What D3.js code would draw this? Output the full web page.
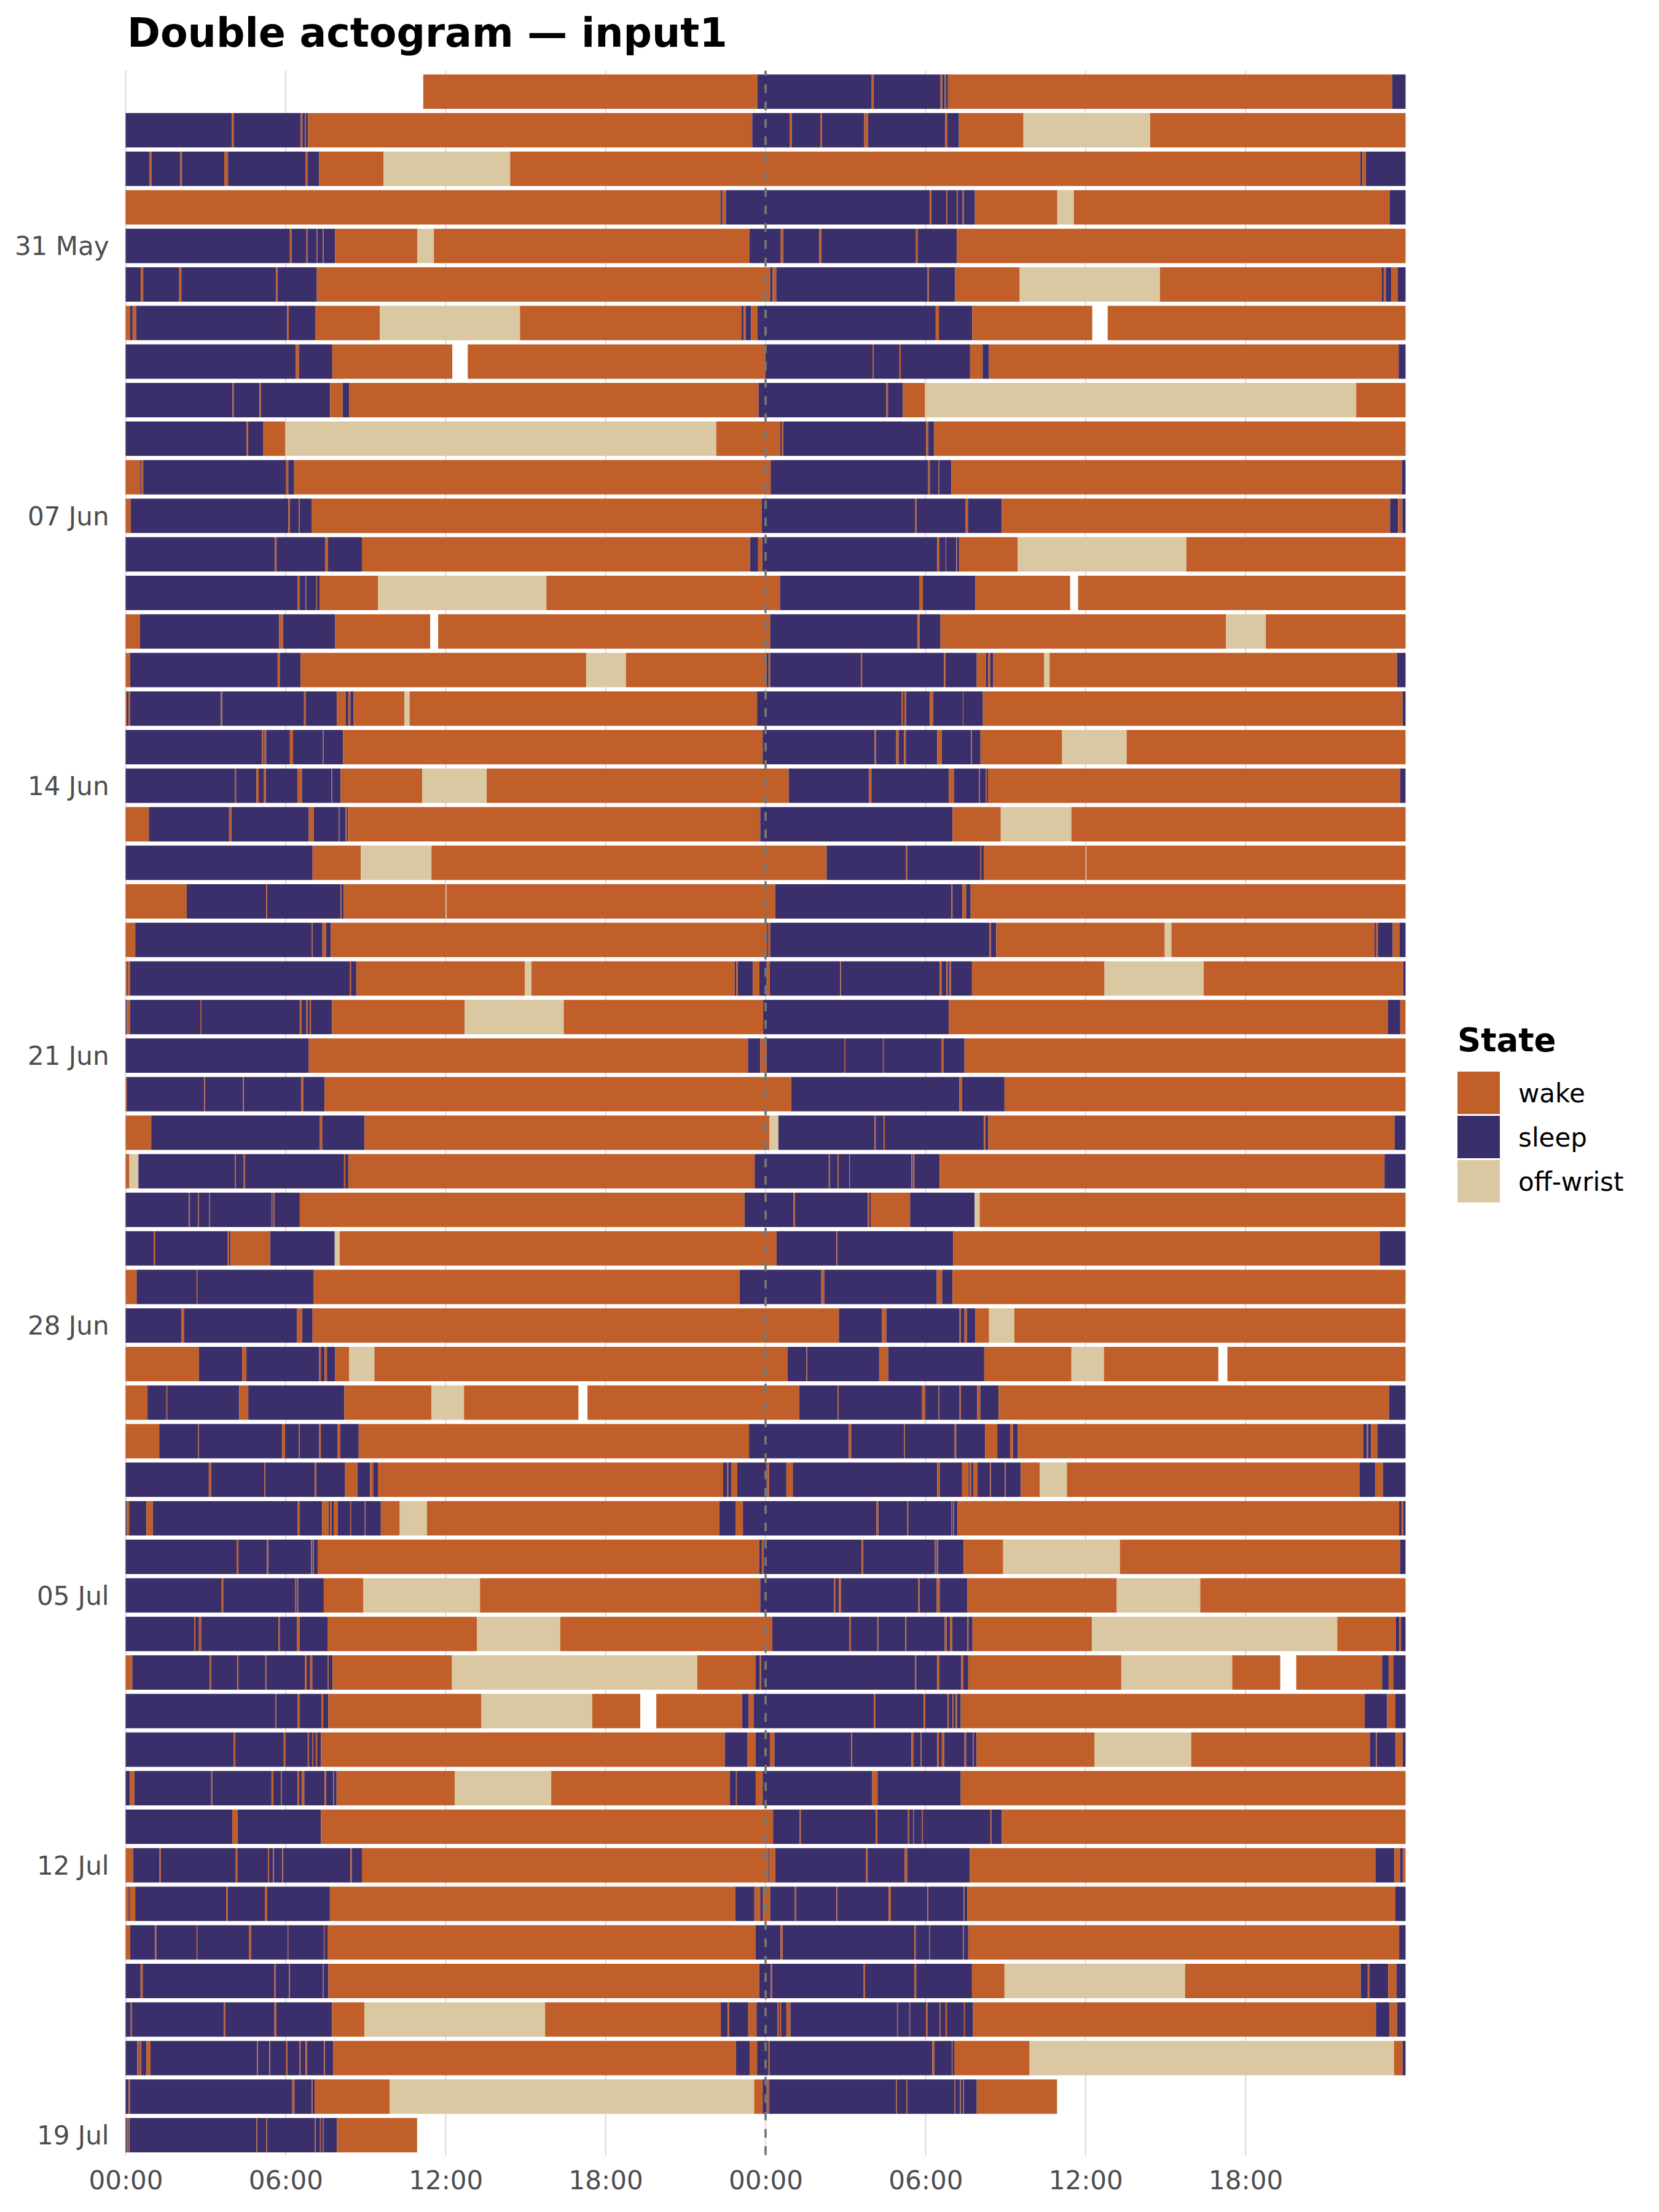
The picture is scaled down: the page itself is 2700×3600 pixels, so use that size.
<!DOCTYPE html>
<html><head><meta charset="utf-8">
<script src="https://cdn.jsdelivr.net/npm/d3@7"></script>
<style>body{margin:0;background:#fff;} svg{display:block;font-family:"DejaVu Sans",sans-serif;}</style>
</head><body>
<svg id="chart" width="2700" height="3600"></svg>
<script>
const chartTitle = "Double actogram — input1";
const legendTitle = "State";
const stateKeys = ["W", "S", "O"];
const stateNames = ["wake", "sleep", "off-wrist"];
const stateColors = ["#c15f2a", "#3b2f6b", "#d9c8a1"];
const xTickHours = [0, 6, 12, 18, 24, 30, 36, 42];
const xTickLabels = ["00:00", "06:00", "12:00", "18:00", "00:00", "06:00", "12:00", "18:00"];
const yTickRows = [4, 11, 18, 25, 32, 39, 46, 53];
const yTickLabels = ["31 May", "07 Jun", "14 Jun", "21 Jun", "28 Jun", "05 Jul", "12 Jul", "19 Jul"];
// one string per day (27 May .. 19 Jul): state letter + clock hour where that state begins
// W = wake, S = sleep, O = off-wrist, N = no data
const dayEvents = [
  "N0 W11.16 S23.70",
  "S0 W3.98 S4.05 W6.56 S6.63 W6.72 S6.76 W6.84 S23.50",
  "S0 W0.90 S0.98 W2.05 S2.11 W3.70 S3.84 W6.74 S6.82 W7.25 O9.67 W14.42",
  "W0 S22.31 W22.38 S22.51",
  "S0 W6.16 S6.22 W6.78 S6.82 W7.17 S7.20 W7.39 S7.43 W7.85 O10.94 W11.56 S23.40",
  "S0 W0.57 S0.66 W2.01 S2.09 W5.64 S5.70 W7.17",
  "W0 S0.17 W0.26 S0.40 W6.06 S6.12 W7.11 O9.53 W14.79 S23.10 W23.18 S23.26 W23.46 S23.70",
  "S0 W6.38 S6.50 W7.75 N12.25 W12.83",
  "S0 W4.01 S4.05 W5.02 S5.07 W7.67 S8.14 W8.38 S23.74",
  "S0 W4.53 S4.59 W5.15 O5.98 W22.15",
  "W0 S0.55 W0.60 S0.66 W6.02 S6.10 W6.32",
  "W0 S0.19 W6.10 S6.16 W6.49 S6.52 W6.97 S23.86",
  "S0 W5.60 S5.66 W7.49 S7.59 W8.86 S23.42 W23.72 S23.88",
  "S0 W6.44 S6.52 W6.75 S6.77 W7.15 S7.18 W7.27 O9.46 W15.78",
  "W0 S0.54 W5.76 S5.90 W7.86 N11.42 W11.72",
  "W0 S0.17 W5.70 S5.78 W6.56 O17.27 W18.76",
  "W0 S0.04 W0.11 S0.17 W3.57 S3.62 W6.69 S6.75 W7.92 S8.26 W8.35 S8.43 W8.54 O10.45 W10.65 S23.68",
  "S0 W5.11 S5.16 W5.21 S5.27 W6.16 S6.28 W7.40 S7.42 W8.15 S23.89",
  "S0 W4.09 S4.14 W4.90 S4.99 W5.19 S5.26 W6.44 S6.61 W7.71 S7.74 W8.06 O11.12 W13.54",
  "W0 S0.87 W3.88 S3.97 W6.87 S7.06 W8.00 S8.03 W8.25 S8.29 W8.34 S23.80",
  "S0 W7.01 O8.82 W11.47",
  "W0 S2.29 W5.27 S5.31 W8.06 S8.09 W8.18 N12.00 W12.03",
  "W0 S0.36 W6.97 S7.01 W7.38 S7.52 W7.69",
  "W0 S0.05 W0.09 S0.17 W8.40 S8.45 W8.65 O14.97 W15.22 S22.84 W22.90 S22.96 W23.52 S23.77",
  "S0 W0.04 S0.16 W2.80 S2.83 W6.53 S6.60 W6.78 S6.83 W6.90 S6.95 W7.74 O12.71 W16.43 S23.91",
  "S0 W6.87 S23.34 W23.80",
  "W0 S0.04 W2.95 S2.98 W4.40 S4.43 W6.59 S6.67 W7.46",
  "W0 S0.96 W7.27 S7.37 W8.96",
  "W0 O0.14 S0.48 W4.09 S4.13 W4.43 S4.47 W8.19 S8.24 W8.35 S23.59",
  "S0 W2.37 S2.41 W2.71 S2.74 W3.14 S3.16 W5.47 S5.50 W5.54 S5.58 W6.53 S23.21",
  "S0 W1.05 S1.10 W3.83 S3.88 W3.94 S5.42 O7.84 W8.03",
  "W0 S0.41 W2.66 S2.69 W7.04 S23.03",
  "S0 W2.09 S2.20 W6.42 S6.62 W7.01",
  "W0 S2.75 W4.37 S4.53 W7.26 S7.32 W7.46 S7.55 W7.86 O8.38 W9.33",
  "W0 S0.82 W1.53 S1.56 W4.26 S4.60 W8.20 O11.47 W12.69 N16.98 W17.32",
  "W0 S1.26 W2.71 S2.74 W5.87 S5.98 W6.49 S6.52 W7.26 S7.32 W7.94 S8.05 W8.74 S23.38",
  "S0 W3.12 S3.21 W5.20 S5.23 W7.09 S7.15 W8.23 S8.69 W9.17 S9.28 W9.46 S22.41 W22.55 S22.60 W22.71 S22.94",
  "S0 W0.04 S0.13 W0.78 S1.02 W6.44 S6.53 W7.37 S7.61 W7.66 S7.72 W7.80 S7.95 W8.42 S8.45 W8.97 S9.00 W9.57 O10.28 W11.30 S22.27 W22.87 S23.15",
  "S0 W4.16 S4.23 W5.30 S5.35 W6.96 S6.99 W7.03 S7.06 W7.20 S23.76 W23.86 S23.92",
  "S0 W3.60 S3.66 W6.35 S6.38 W6.42 S6.47 W7.43 O8.91 W13.29 S23.80",
  "S0 W2.57 S2.61 W2.75 S2.83 W5.73 S5.78 W6.42 S6.53 W7.57 O13.17 W16.30",
  "W0 S0.25 W3.15 S3.20 W4.19 S4.23 W5.24 S5.28 W6.72 S6.79 W6.92 S7.00 W7.57 S7.61 W7.76 O12.24 W21.44 S23.63 W23.77 S23.83",
  "S0 W5.61 S5.65 W6.44 S6.52 W7.34 S7.41 W7.60 O13.34 W17.50 N19.30 W19.90 S23.12 W23.37 S23.55",
  "S0 W4.06 S4.11 W5.93 S5.99 W6.83 S6.87 W7.01 S7.04 W7.13 S7.18 W7.32 S22.47 W23.31 S23.62",
  "S0 W0.16 S0.33 W3.21 S3.25 W5.47 S5.54 W5.82 S5.85 W6.44 S6.50 W6.61 S6.70 W7.46 S7.52 W7.78 S7.81 W7.91 O12.34 W15.96 S22.66 W22.89 S22.92 W23.63 S23.89",
  "S0 W4.00 S4.20 W7.32",
  "W0 S0.28 W1.27 S1.32 W4.13 S4.19 W5.34 S5.38 W5.53 S5.56 W5.87 S5.90 W8.43 S8.48 W8.86",
  "W0 S0.11 W0.15 S0.36 W3.77 S3.83 W5.22 S5.31 W7.66 S22.87 W23.58 S23.80 W23.90",
  "W0 S0.17 W1.10 S1.15 W2.66 S2.69 W4.62 S4.70 W6.07 S6.10 W7.43 S7.46 W7.57 S23.62",
  "S0 W0.56 S0.64 W5.58 S5.63 W6.13 S6.16 W7.40 S7.43 W7.60 S23.76",
  "S0 W0.19 S0.24 W3.68 S3.73 W5.58 S5.65 W7.74 O8.96 W15.73 S22.32 W22.58 S22.64 W23.35 S23.66",
  "S0 W0.44 S0.49 W0.53 S0.58 W0.78 S0.93 W4.93 S4.96 W5.39 S5.42 W6.02 S6.07 W6.52 S6.56 W6.75 S6.80 W7.44 S7.47 W7.78 S22.89 W23.40 S23.68",
  "S0 W0.11 S0.16 W6.25 S6.33 W6.98 S7.01 W7.09 O9.90 W23.57 S23.89",
  "S0 W0.04 S0.08 W0.11 S0.14 W4.90 S4.93 W5.28 S5.31 W7.09 S7.12 W7.29 S7.32 W7.40 S7.43 W7.92 N10.93"
];

// ---- build segments ----
const nDays = dayEvents.length;
const daySegs = dayEvents.map(str => {
  const ev = str.trim().split(/\s+/).map(t => ({ state: t[0], h: +t.slice(1) }));
  const out = [];
  ev.forEach((e, i) => {
    const end = i < ev.length - 1 ? ev[i + 1].h : 24;
    if (e.state !== "N" && end > e.h) out.push({ state: e.state, start: e.h, end: end });
  });
  return out;
});
const bars = [];
for (let r = 0; r < nDays; r++) {
  daySegs[r].forEach(s => bars.push({ row: r, state: s.state, a: s.start, b: s.end }));
  if (r + 1 < nDays) daySegs[r + 1].forEach(s => bars.push({ row: r, state: s.state, a: s.start + 24, b: s.end + 24 }));
}

// ---- scales ----
const svg = d3.select("#chart");
const x = d3.scaleLinear().domain([0, 48]).range([204.5, 2287.5]);
const y = d3.scaleLinear().domain([0, nDays - 1]).range([149.2, 3475]);
const halfH = 0.446 * (y(1) - y(0));
const color = d3.scaleOrdinal().domain(stateKeys).range(stateColors);
const panelTop = 115, panelBottom = 3508;

// gridlines
svg.append("g").selectAll("line")
  .data(xTickHours)
  .join("line")
  .attr("x1", d => x(d)).attr("x2", d => x(d))
  .attr("y1", panelTop).attr("y2", panelBottom)
  .attr("stroke", "#dcdcdc").attr("stroke-width", 2.2);

// bars
svg.append("g").selectAll("rect")
  .data(bars)
  .join("rect")
  .attr("x", d => x(d.a))
  .attr("width", d => Math.max(0, x(d.b) - x(d.a)))
  .attr("y", d => y(d.row) - halfH)
  .attr("height", 2 * halfH)
  .attr("fill", d => color(d.state));

// midnight dashed line
svg.append("line")
  .attr("x1", x(24)).attr("x2", x(24))
  .attr("y1", panelTop).attr("y2", panelBottom)
  .attr("stroke", "#777777").attr("stroke-width", 3.8)
  .attr("stroke-dasharray", "14.1,14.1")
  .attr("stroke-dashoffset", 5.9);

// axes
const xAxis = d3.axisBottom(x).tickValues(xTickHours)
  .tickFormat((d, i) => xTickLabels[i]).tickSize(0).tickPadding(25);
const gx = svg.append("g").attr("transform", `translate(0,${panelBottom})`).call(xAxis);
gx.select(".domain").remove();
gx.selectAll("text").attr("font-size", 42).attr("fill", "#4d4d4d").attr("font-family", "DejaVu Sans");

const yAxis = d3.axisLeft(y).tickValues(yTickRows)
  .tickFormat((d, i) => yTickLabels[i]).tickSize(0).tickPadding(27);
const gy = svg.append("g").attr("transform", `translate(${x(0)},0)`).call(yAxis);
gy.select(".domain").remove();
gy.selectAll("text").attr("font-size", 42).attr("fill", "#4d4d4d").attr("font-family", "DejaVu Sans").attr("dy", "0.35em");

// title
svg.append("text").attr("x", 207).attr("y", 76)
  .attr("font-size", 65).attr("font-weight", "bold").attr("fill", "#000")
  .text(chartTitle);

// legend
const lg = svg.append("g").attr("transform", "translate(2372,0)");
lg.append("text").attr("x", 0).attr("y", 1711)
  .attr("font-size", 53).attr("font-weight", "bold").attr("fill", "#000").text(legendTitle);
const items = lg.selectAll("g.item").data(stateKeys).join("g").attr("class", "item")
  .attr("transform", (d, i) => `translate(0,${1744 + i * 72})`);
items.append("rect").attr("width", 69).attr("height", 69).attr("fill", d => color(d));
items.append("text").attr("x", 99).attr("y", 50)
  .attr("font-size", 42).attr("fill", "#000")
  .text((d, i) => stateNames[i]);
</script>
</body></html>
